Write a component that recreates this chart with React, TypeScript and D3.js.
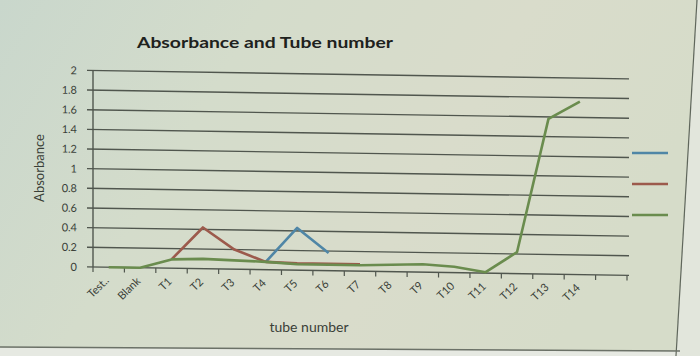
import React from "react";
import * as d3 from "d3";

const categories = ["Test..", "Blank", "T1", "T2", "T3", "T4", "T5", "T6", "T7", "T8", "T9", "T10", "T11", "T12", "T13", "T14"];
const series1 = [null, null, null, null, null, 0.08, 0.43, 0.18, null, null, null, null, null, null, null, null];
const series2 = [null, null, 0.09, 0.42, 0.2, 0.08, 0.07, 0.07, 0.07, null, null, null, null, null, null, null];
const series3 = [0, 0, 0.09, 0.1, 0.09, 0.08, 0.06, 0.06, 0.06, 0.07, 0.08, 0.06, 0.01, 0.22, 1.58, 1.76];
const yTicks = [0, 0.2, 0.4, 0.6, 0.8, 1, 1.2, 1.4, 1.6, 1.8, 2];
const seriesColors = ["#4f86a6", "#9c5a4c", "#6a8c4e"];

const W = 700, H = 356;
const left = 93, right = 627, top = 70.5, bottom = 267;

export default function App() {
  const slots = [...categories, ""];
  const x = d3.scaleBand<string>().domain(slots).range([left, right]).padding(0);
  const y = d3.scaleLinear().domain([0, 2]).range([bottom, top]);
  const cx = (i: number) => (x(slots[i]) as number) + x.bandwidth() / 2;
  const line = d3
    .line<number | null>()
    .defined((d) => d !== null)
    .x((_, i) => cx(i))
    .y((d) => y(d as number));
  const allSeries = [series1, series2, series3];
  const font = "Lato, 'Open Sans', sans-serif";
  const skew = `translate(${left},0) skewY(0.9) translate(${-left},0)`;
  const boundaries = slots.map((s) => x(s) as number).concat([right]);

  return (
    <svg width={W} height={H} style={{ position: "absolute", left: 0, top: 0, display: "block" }}>
      <defs>
        <linearGradient id="bg" x1="0" y1="0" x2="1" y2="0.3">
          <stop offset="0" stopColor="#c9d7cc" />
          <stop offset="0.35" stopColor="#d4dccb" />
          <stop offset="0.7" stopColor="#d9dccb" />
          <stop offset="1" stopColor="#d6dcc9" />
        </linearGradient>
      </defs>
      <rect x={0} y={0} width={W} height={H} fill="url(#bg)" />
      <polygon points={`697,0 700,0 700,356 676,356`} fill="#e2e6dc" />
      <polygon points={`0,347 680,351 680,356 0,356`} fill="#e6e9e2" />
      <line x1={697} y1={0} x2={676} y2={356} stroke="#5f665b" strokeWidth={1.2} />
      <line x1={0} y1={347} x2={680} y2={351} stroke="#6b7167" strokeWidth={1.5} />

      <text x={137} y={48} fontFamily={font} fontWeight="bold" fontSize={16} fill="#1e221d" textLength={256} lengthAdjust="spacingAndGlyphs">
        Absorbance and Tube number
      </text>

      <g transform={skew}>
        {yTicks.map((t) => (
          <g key={t}>
            <line x1={left - 6} x2={right + 2} y1={y(t)} y2={y(t)} stroke="#50564e" strokeWidth={1.4} />
            <text x={77} y={y(t) + 4} textAnchor="end" fontFamily={font} fontSize={11} fill="#3a3f38">
              {t}
            </text>
          </g>
        ))}
        <line x1={left} x2={left} y1={top} y2={bottom} stroke="#50564e" strokeWidth={1.4} />
        {boundaries.map((b, i) => (
          <line key={i} x1={b} x2={b} y1={bottom} y2={bottom + 5} stroke="#50564e" strokeWidth={1.2} />
        ))}
        {allSeries.map((s, k) => (
          <path key={k} d={line(s) || ""} fill="none" stroke={seriesColors[k]} strokeWidth={2.6} strokeLinejoin="round" />
        ))}
        {categories.map((c, i) => (
          <text
            key={c}
            transform={`translate(${cx(i) + 1},${bottom + 14}) rotate(-45)`}
            textAnchor="end"
            fontFamily={font}
            fontSize={11}
            fill="#3a3f38"
          >
            {c}
          </text>
        ))}
      </g>

      <text transform="translate(44,168) rotate(-90)" textAnchor="middle" fontFamily={font} fontSize={13} fill="#3a3f38">
        Absorbance
      </text>
      <text x={309} y={332} textAnchor="middle" fontFamily={font} fontSize={14} fill="#3a3f38">
        tube number
      </text>

      {seriesColors.map((c, k) => (
        <line key={k} x1={632} x2={668} y1={153 + k * 31} y2={153 + k * 31} stroke={c} strokeWidth={2.6} />
      ))}
    </svg>
  );
}
